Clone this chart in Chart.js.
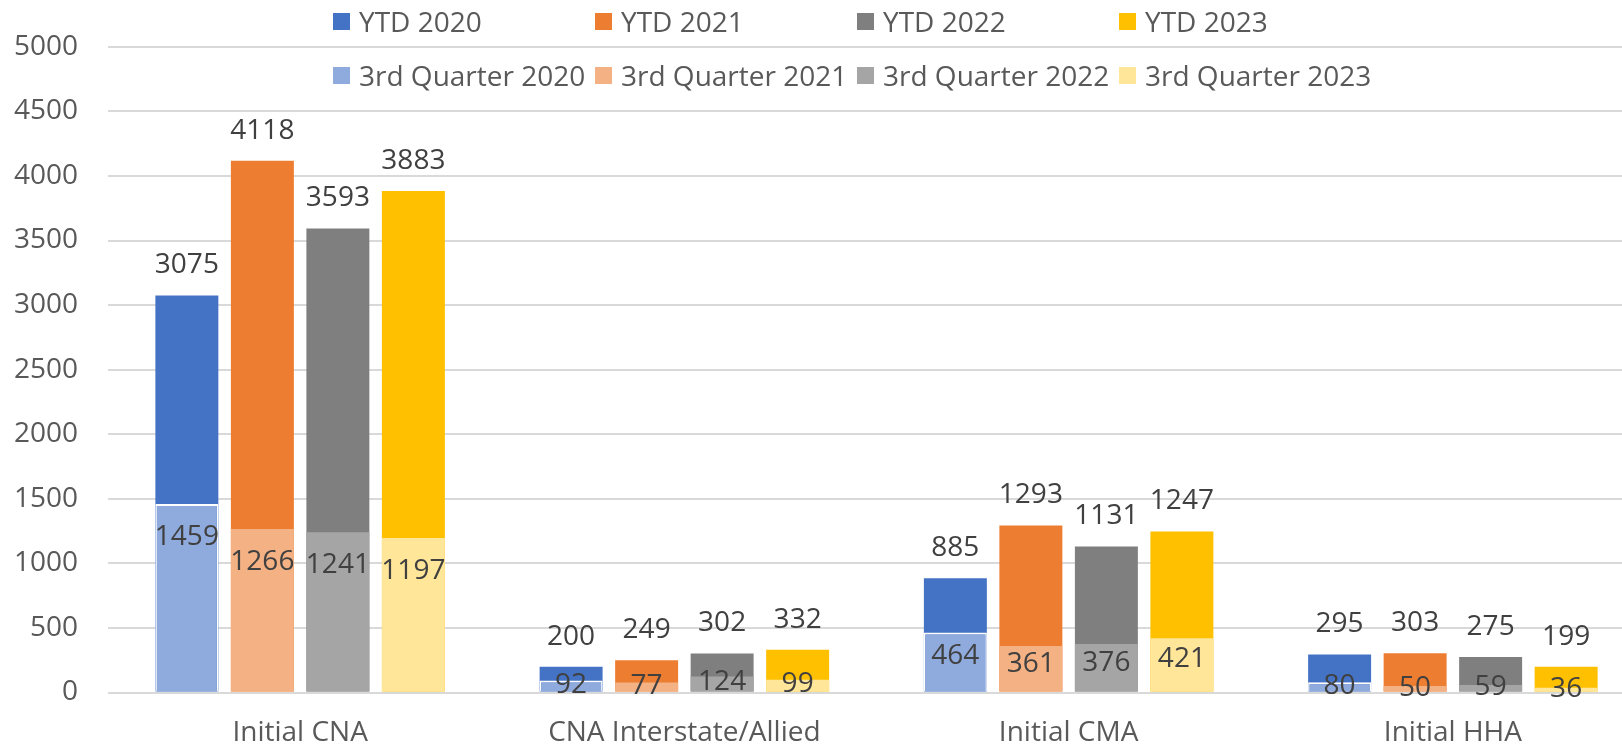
<!DOCTYPE html>
<html>
<head>
<meta charset="utf-8">
<script src="https://cdn.jsdelivr.net/npm/chart.js@4.4.1/dist/chart.umd.min.js"></script>
<style>
    html, body { margin: 0; padding: 0; background: #fff; overflow: hidden; }
    #wrap { position: relative; width: 1622px; height: 748px; overflow: hidden; }
    #chart { position: absolute; left: 0; top: 0; }
    #legend {
        position: absolute; left: 333px; top: -6px;
        display: grid; grid-template-columns: repeat(4, 262px); grid-auto-rows: 54px;
        font-family: 'Open Sans', sans-serif; font-size: 28px; color: #595959;
    }
    .item { display: flex; align-items: center; white-space: nowrap; }
    .box { width: 17px; height: 17px; margin-right: 9px; flex: none; }
</style>
</head>
<body>
<div id="wrap">
    <canvas id="chart" width="1645" height="748"></canvas>
    <div id="legend"></div>
</div>
<script>
// Data
const categories = ['Initial CNA', 'CNA Interstate/Allied', 'Initial CMA', 'Initial HHA'];
const years = ['2020', '2021', '2022', '2023'];
const yTicks = [0, 500, 1000, 1500, 2000, 2500, 3000, 3500, 4000, 4500, 5000];

const ytd2020 = [3075, 200, 885, 295];
const ytd2021 = [4118, 249, 1293, 303];
const ytd2022 = [3593, 302, 1131, 275];
const ytd2023 = [3883, 332, 1247, 199];

const q3_2020 = [1459, 92, 464, 80];
const q3_2021 = [1266, 77, 361, 50];
const q3_2022 = [1241, 124, 376, 59];
const q3_2023 = [1197, 99, 421, 36];

const ytdSeries = [ytd2020, ytd2021, ytd2022, ytd2023];
const q3Series = [q3_2020, q3_2021, q3_2022, q3_2023];

// Styles
const darkColors = ['#4472C4', '#ED7D31', '#7F7F7F', '#FFC000'];
const lightColors = ['#8FAADC', '#F4B183', '#A5A5A5', '#FFE699'];
const FONT = 'Open Sans';

const datasets = [];
years.forEach((yr, i) => {
    datasets.push({
        label: 'YTD ' + yr,
        data: ytdSeries[i],
        backgroundColor: darkColors[i],
        stack: 's' + yr,
        order: 2,
        kind: 'ytd'
    });
});
years.forEach((yr, i) => {
    datasets.push({
        label: '3rd Quarter ' + yr,
        data: q3Series[i],
        backgroundColor: lightColors[i],
        borderColor: '#ffffff',
        borderWidth: i === 0 ? { top: 2, left: 1.5, right: 1.5, bottom: 0 } : 0,
        stack: 's' + yr,
        order: 1,
        kind: 'q3'
    });
});
datasets.forEach(ds => {
    ds.categoryPercentage = 0.786;
    ds.barPercentage = 0.834;
});

// Value labels drawn on top of bars
const valueLabels = {
    id: 'valueLabels',
    afterDatasetsDraw(chart) {
        const ctx = chart.ctx;
        ctx.save();
        ctx.font = '28px "' + FONT + '"';
        ctx.fillStyle = '#404040';
        ctx.textAlign = 'center';
        ctx.textBaseline = 'middle';
        chart.data.datasets.forEach((ds, di) => {
            const meta = chart.getDatasetMeta(di);
            meta.data.forEach((bar, idx) => {
                const v = ds.data[idx];
                let y;
                if (ds.kind === 'ytd') {
                    y = bar.y - 30;
                } else {
                    y = bar.y + Math.min(33, (bar.base - bar.y) * 0.4);
                }
                ctx.fillText(String(v), bar.x, y);
            });
        });
        ctx.restore();
    }
};

new Chart(document.getElementById('chart'), {
    type: 'bar',
    data: { labels: categories, datasets: datasets },
    options: {
        responsive: false,
        animation: false,
        layout: { padding: { top: 46, left: 0, right: 0, bottom: 0 } },
        plugins: {
            legend: { display: false },
            tooltip: { enabled: false }
        },
        scales: {
            x: {
                stacked: true,
                grid: { display: false, drawTicks: false },
                border: { display: false },
                ticks: {
                    padding: 24,
                    color: '#595959',
                    font: { family: FONT, size: 28 }
                },
                afterFit(scale) { scale.height = 55.5; }
            },
            y: {
                stacked: false,
                min: 0,
                max: yTicks[yTicks.length - 1],
                afterBuildTicks(scale) { scale.ticks = yTicks.map(v => ({ value: v })); },
                grid: { color: '#d9d9d9', lineWidth: 2, drawTicks: false },
                border: { display: false },
                ticks: {
                    padding: 30,
                    color: '#595959',
                    font: { family: FONT, size: 28 },
                    callback: (value) => String(value)
                },
                afterFit(scale) { scale.width = 108; }
            }
        }
    },
    plugins: [valueLabels]
});

// Legend: YTD row then 3rd Quarter row
const legendEl = document.getElementById('legend');
datasets.forEach(ds => {
    const item = document.createElement('div');
    item.className = 'item';
    const box = document.createElement('span');
    box.className = 'box';
    box.style.background = ds.backgroundColor;
    const txt = document.createElement('span');
    txt.textContent = ds.label;
    item.appendChild(box);
    item.appendChild(txt);
    legendEl.appendChild(item);
});
</script>
</body>
</html>
